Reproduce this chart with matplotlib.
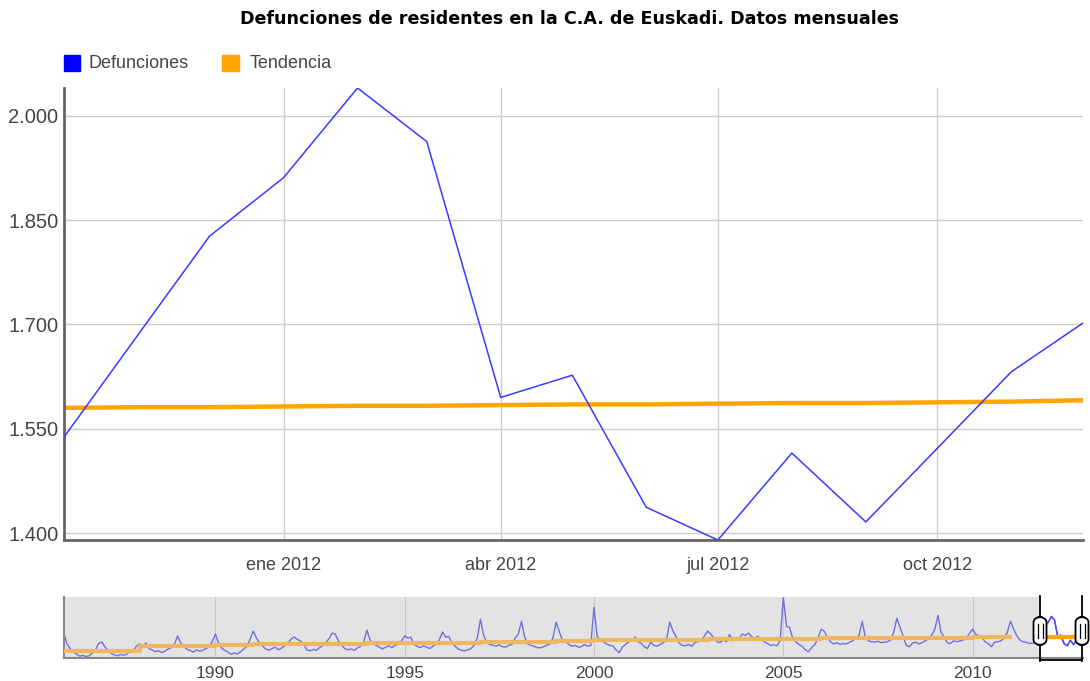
import numpy as np
import pandas as pd
import matplotlib
matplotlib.use('Agg')
from matplotlib import pyplot as plt
from matplotlib.patches import FancyBboxPatch, Rectangle
from matplotlib.ticker import FixedLocator, FuncFormatter

# Monthly deaths, Jan 1986 - Sep 2011 (read from the navigator strip)
hist_1986 = [1650, 1420, 1330, 1250, 1210, 1160, 1180, 1150, 1170, 1230, 1300, 1440]
hist_1987 = [1476, 1360, 1300, 1220, 1190, 1170, 1200, 1180, 1210, 1260, 1290, 1380]
hist_1988 = [1432, 1380, 1454, 1330, 1300, 1260, 1280, 1240, 1270, 1320, 1350, 1420]
hist_1989 = [1607, 1450, 1380, 1310, 1290, 1250, 1300, 1270, 1290, 1330, 1360, 1480]
hist_1990 = [1650, 1440, 1340, 1290, 1250, 1200, 1230, 1210, 1260, 1320, 1380, 1530]
hist_1991 = [1716, 1560, 1460, 1380, 1320, 1290, 1330, 1360, 1300, 1340, 1390, 1450]
hist_1992 = [1540, 1585, 1530, 1500, 1420, 1300, 1280, 1310, 1290, 1350, 1390, 1460]
hist_1993 = [1550, 1672, 1650, 1500, 1400, 1330, 1300, 1320, 1290, 1340, 1380, 1470]
hist_1994 = [1738, 1520, 1430, 1400, 1360, 1320, 1360, 1390, 1350, 1400, 1420, 1500]
hist_1995 = [1607, 1560, 1580, 1420, 1380, 1350, 1390, 1360, 1330, 1380, 1430, 1520]
hist_1996 = [1694, 1580, 1600, 1450, 1380, 1320, 1290, 1280, 1300, 1330, 1400, 1560]
hist_1997 = [1977, 1620, 1470, 1420, 1400, 1380, 1410, 1370, 1360, 1400, 1420, 1560]
hist_1998 = [1650, 1934, 1600, 1430, 1400, 1380, 1350, 1345, 1370, 1400, 1430, 1560]
hist_1999 = [1912, 1700, 1520, 1470, 1430, 1380, 1400, 1360, 1370, 1420, 1380, 1400]
hist_2000 = [2239, 1600, 1520, 1480, 1430, 1400, 1390, 1300, 1240, 1360, 1420, 1480]
hist_2001 = [1500, 1585, 1480, 1440, 1370, 1330, 1470, 1400, 1380, 1420, 1460, 1520]
hist_2002 = [1912, 1720, 1600, 1450, 1400, 1390, 1420, 1380, 1460, 1480, 1520, 1600]
hist_2003 = [1716, 1650, 1560, 1480, 1460, 1520, 1480, 1640, 1500, 1560, 1540, 1650]
hist_2004 = [1620, 1670, 1590, 1560, 1600, 1530, 1480, 1440, 1400, 1410, 1390, 1500]
hist_2005 = [2457, 1820, 1800, 1560, 1480, 1420, 1380, 1300, 1260, 1350, 1420, 1550]
hist_2006 = [1759, 1710, 1580, 1480, 1430, 1460, 1420, 1440, 1430, 1470, 1500, 1560]
hist_2007 = [1620, 1934, 1600, 1500, 1480, 1470, 1490, 1460, 1470, 1480, 1520, 1680]
hist_2008 = [1999, 1800, 1610, 1400, 1370, 1450, 1470, 1430, 1460, 1500, 1540, 1620]
hist_2009 = [1750, 2065, 1700, 1580, 1460, 1440, 1500, 1480, 1500, 1520, 1560, 1660]
hist_2010 = [1759, 1640, 1620, 1580, 1480, 1440, 1370, 1470, 1480, 1500, 1560, 1680]
hist_2011 = [1934, 1760, 1620, 1520, 1480, 1470, 1440, 1450, 1460]

# Oct 2011 - Dec 2012 (main panel)
defunciones = [1538, 1685, 1827, 1911, 2040, 1963, 1595, 1627, 1437,
               1390, 1515, 1416, 1522, 1632, 1702]
tendencia = [1580, 1581, 1581, 1582, 1583, 1583, 1584, 1585, 1585,
             1586, 1587, 1587, 1588, 1589, 1591]

# Trend before Oct 2011, one level per year 1986-2011
tendencia_anual = [1280, 1280, 1389, 1389, 1410, 1432, 1432, 1440, 1450,
                   1454, 1460, 1470, 1480, 1498, 1510, 1520, 1525, 1541,
                   1545, 1550, 1560, 1563, 1568, 1572, 1575, 1578]

hist = (hist_1986 + hist_1987 + hist_1988 + hist_1989 + hist_1990 + hist_1991 +
        hist_1992 + hist_1993 + hist_1994 + hist_1995 + hist_1996 + hist_1997 +
        hist_1998 + hist_1999 + hist_2000 + hist_2001 + hist_2002 + hist_2003 +
        hist_2004 + hist_2005 + hist_2006 + hist_2007 + hist_2008 + hist_2009 +
        hist_2010 + hist_2011)
serie = hist + defunciones
fechas = pd.date_range('1986-01-01', periods=len(serie), freq='MS')
fechas_sel = fechas[-len(defunciones):]
años = pd.date_range('1986-01-01', periods=len(tendencia_anual), freq='YS')

TXT = '#444444'
plt.rcParams['font.family'] = ['Liberation Sans', 'DejaVu Sans']

fig = plt.figure(figsize=(10.9, 6.81), dpi=100)

fig.text(570 / 1090, 0.972, 'Defunciones de residentes en la C.A. de Euskadi. Datos mensuales',
         ha='center', va='center', fontsize=12.6, fontweight='bold',
         family='DejaVu Sans', color='black')

# legend
fig.patches.append(Rectangle((64 / 1090, 1 - 71 / 681), 16 / 1090, 16 / 681,
                             transform=fig.transFigure, color='#0000ff'))
fig.text(88 / 1090, 1 - 63 / 681, 'Defunciones', va='center', fontsize=13, color=TXT)
fig.patches.append(Rectangle((222 / 1090, 1 - 71 / 681), 17 / 1090, 16 / 681,
                             transform=fig.transFigure, color='#ffa500'))
fig.text(250 / 1090, 1 - 63 / 681, 'Tendencia', va='center', fontsize=13, color=TXT)

# main panel
ax = fig.add_axes([64 / 1090, 1 - 540 / 681, 1019 / 1090, 452 / 681])
ax.plot(fechas_sel, defunciones, color='#3a3aff', lw=1.1, zorder=3)
ax.plot(fechas_sel, tendencia, color='#ffa500', lw=3.2, zorder=2)
ax.set_xlim(fechas_sel[0], fechas_sel[-1])
ax.set_ylim(1390, 2040)
ax.yaxis.set_major_locator(FixedLocator([1400, 1550, 1700, 1850, 2000]))
ax.yaxis.set_major_formatter(FuncFormatter(lambda v, p: f'{int(v):,}'.replace(',', '.')))
xt = pd.to_datetime(['2012-01-01', '2012-04-01', '2012-07-01', '2012-10-01'])
ax.set_xticks(xt)
ax.set_xticklabels(['ene 2012', 'abr 2012', 'jul 2012', 'oct 2012'])
ax.grid(True, color='#cccccc', lw=1)
ax.tick_params(length=0, labelsize=13, colors=TXT, pad=4)
ax.tick_params(axis='y', labelsize=14.5)
ax.tick_params(axis='x', pad=12)
for s in ['top', 'right']:
    ax.spines[s].set_visible(False)
ax.spines['left'].set_color('#666666')
ax.spines['left'].set_linewidth(2)
ax.spines['bottom'].set_color('#666666')
ax.spines['bottom'].set_linewidth(2)

# navigator strip
nav = fig.add_axes([64 / 1090, 1 - 658 / 681, 1019 / 1090, 61 / 681])
nav.set_facecolor('#e3e3e3')
nav.axvspan(fechas_sel[0], fechas[-1], color='white', zorder=0)
nav.plot(fechas, serie, color='#7070e0', lw=1, zorder=2)
nav.step(años, tendencia_anual, where='post', color='#efb860', lw=3, zorder=3)
nav.plot(fechas_sel, tendencia, color='#ffa500', lw=3, zorder=4)
nav.plot(fechas_sel, defunciones, color='#4848ff', lw=1, zorder=3)
nav.set_xlim(fechas[0], fechas[-1])
nav.set_ylim(1120, 2470)
nav.set_yticks([])
ticks_nav = pd.to_datetime(['1990-01-01', '1995-01-01', '2000-01-01', '2005-01-01', '2010-01-01'])
nav.set_xticks(ticks_nav)
nav.set_xticklabels(['1990', '1995', '2000', '2005', '2010'])
nav.grid(True, axis='x', color='#c8c8c8', lw=0.8)
nav.tick_params(length=0, labelsize=12.5, colors=TXT, pad=6)
for s in ['top', 'right']:
    nav.spines[s].set_visible(False)
nav.spines['left'].set_color('#888888')
nav.spines['left'].set_linewidth(1.5)
nav.spines['bottom'].set_color('#888888')
nav.spines['bottom'].set_linewidth(1.5)

# range handles
for fx in [1040, 1082]:
    x0 = fx / 1090
    fig.add_artist(plt.Line2D([x0, x0], [1 - 661 / 681, 1 - 596 / 681], color='black', lw=1.3))
    fig.add_artist(FancyBboxPatch((x0 - 6.5 / 1090, 1 - 645 / 681), 13 / 1090, 28 / 681,
                                  boxstyle='round,pad=0,rounding_size=0.008',
                                  transform=fig.transFigure, fc='white', ec='black',
                                  lw=1.3, zorder=5))
    for dx in [-2.5, 2.5]:
        fig.add_artist(plt.Line2D([x0 + dx / 1090] * 2, [1 - 638 / 681, 1 - 624 / 681],
                                  color='black', lw=0.9, zorder=6))
fig.add_artist(plt.Line2D([1040 / 1090, 1082 / 1090], [1 - 660 / 681] * 2, color='black', lw=1.3))

plt.savefig('out.png', dpi=100)
